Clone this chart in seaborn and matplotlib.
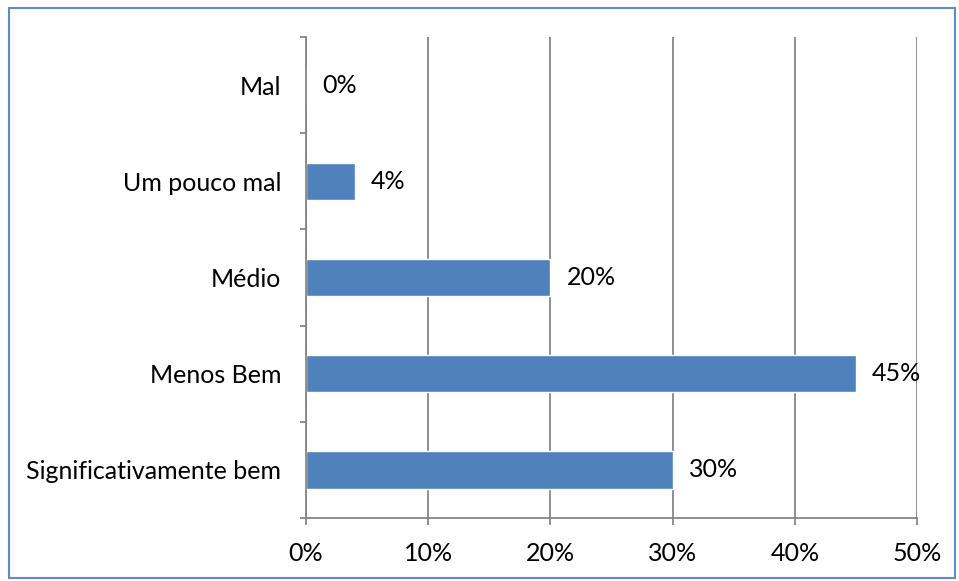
import matplotlib
matplotlib.use("Agg")
import matplotlib.pyplot as plt
import seaborn as sns
import pandas as pd
from matplotlib.patches import Rectangle
from matplotlib.ticker import FixedLocator

categories = ["Mal", "Um pouco mal", "Médio", "Menos Bem", "Significativamente bem"]
values = [0, 4, 20, 45, 30]
value_labels = ["0%", "4%", "20%", "45%", "30%"]
x_ticks = [0, 10, 20, 30, 40, 50]
x_tick_labels = ["0%", "10%", "20%", "30%", "40%", "50%"]

sns.set_style("white")
plt.rcParams['font.family'] = ['Lato', 'DejaVu Sans']

df = pd.DataFrame({"cat": categories, "val": values})

fig = plt.figure(figsize=(9.59, 5.81), dpi=100)
ax = fig.add_axes([0.3191, 0.1084, 0.6371, 0.8279])

sns.barplot(data=df, y="cat", x="val", order=categories, color="#4F81BD",
            saturation=1, width=0.39, ax=ax, orient="h")

FS = 18
grid_c = "#868686"
ax.set_xlim(0, 50)
ax.set_ylim(len(categories) - 0.5, -0.5)
ax.set_xticks(x_ticks)
ax.set_xticklabels(x_tick_labels, fontsize=FS, color="black")
ax.xaxis.grid(True, color=grid_c, linewidth=1.3)
ax.set_axisbelow(True)
ax.set_xlabel("")
ax.set_ylabel("")
ax.tick_params(axis="y", which="major", length=0, labelsize=FS, pad=18, labelcolor="black")
ax.yaxis.set_minor_locator(FixedLocator([i - 0.5 for i in range(len(categories) + 1)]))
ax.tick_params(axis="y", which="minor", length=4.5, width=1.3, color=grid_c, direction="out", left=True)
ax.tick_params(axis="x", which="major", length=5, width=1.3, color=grid_c, direction="out", bottom=True, pad=12)

for side in ["top", "right"]:
    ax.spines[side].set_visible(False)
for side in ["left", "bottom"]:
    ax.spines[side].set_color(grid_c)
    ax.spines[side].set_linewidth(1.3)

for i, (v, lab) in enumerate(zip(values, value_labels)):
    ax.annotate(lab, xy=(v, i), xytext=(16, 0), textcoords="offset pixels",
                va="center", ha="left", fontsize=FS, color="black")

border = Rectangle((9 / 959, 3 / 581), 946 / 959, 570 / 581, transform=fig.transFigure,
                   fill=False, edgecolor="#5E8BC9", linewidth=1.5)
fig.patches.append(border)

fig.savefig("out.png", dpi=100, facecolor="white")
